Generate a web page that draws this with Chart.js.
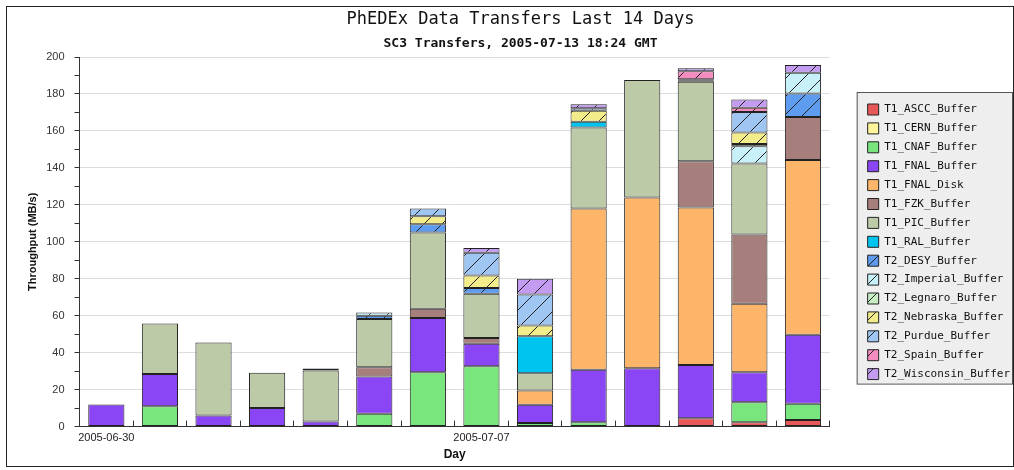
<!DOCTYPE html>
<html lang="en">
<head>
  <meta charset="UTF-8">
  <title>PhEDEx Data Transfers</title>
  <script src="https://cdn.jsdelivr.net/npm/chart.js"></script>
  <style>
    body {
      margin: 0;
      background: #fff;
    }

    .wrap {
      position: relative;
      width: 1014px;
      height: 470px;
    }

    .frame {
      position: absolute;
      left: 6px;
      top: 6px;
      width: 1006px;
      height: 459px;
      border: 1px solid #222;
      pointer-events: none;
    }
  </style>
</head>
<body>

<div class="wrap">
  <canvas id="transfersChart" width="1014" height="470"></canvas>
  <div class="frame"></div>
</div>

<script>
  const days = [
    "2005-06-30", "2005-07-01", "2005-07-02", "2005-07-03", "2005-07-04",
    "2005-07-05", "2005-07-06", "2005-07-07", "2005-07-08", "2005-07-09",
    "2005-07-10", "2005-07-11", "2005-07-12", "2005-07-13"
  ];

  // MB/s per node, one value per day (stack order = legend order)
  const asccBuffer      = [0, 0, 0, 0, 0, 0, 0, 0, 0, 0, 0, 4.5, 2.3, 3.6];
  const cernBuffer      = [0, 0, 0, 0, 0, 0, 0, 0, 0, 0, 0, 0, 0, 0];
  const cnafBuffer      = [0, 11, 0, 0, 0, 7, 29.4, 32.7, 2, 2.3, 0, 0, 10.9, 8.7];
  const fnalBuffer      = [12, 17.5, 6, 10, 2.7, 20.1, 29.3, 12.1, 9.8, 28.4, 31.6, 28.9, 16.2, 37.4];
  const fnalDisk        = [0, 0, 0, 0, 0, 0, 0, 0, 7.7, 87.3, 92.4, 85.1, 37.1, 94.5];
  const fzkBuffer       = [0, 0, 0, 0, 0, 5, 5.1, 3.1, 0, 0, 0, 25.1, 37.4, 23.3];
  const picBuffer       = [0, 27.3, 39.5, 19.2, 27.6, 26.1, 41.2, 24, 9.4, 43.9, 63.5, 43, 38.5, 0];
  const ralBuffer       = [0, 0, 0, 0, 0, 0, 0, 0, 20, 3, 0, 0, 0, 0];
  const desyBuffer      = [0, 0, 0, 0, 0, 1.8, 4.5, 3.1, 0, 0, 0, 0, 0, 12.8];
  const imperialBuffer  = [0, 0, 0, 0, 0, 1.8, 0, 0, 0, 0, 0, 0, 9.3, 11.2];
  const legnaroBuffer   = [0, 0, 0, 0, 1.1, 0, 0, 0, 0, 0, 0, 0.6, 1.2, 0];
  const nebraskaBuffer  = [0, 0, 0, 0, 0, 0, 4.3, 6.8, 5.8, 6, 0, 0, 6.3, 0];
  const purdueBuffer    = [0, 0, 0, 0, 0, 0, 4.2, 12.3, 16.8, 1.3, 0, 0.7, 11, 0];
  const spainBuffer     = [0, 0, 0, 0, 0, 0, 0, 0, 0, 0, 0, 4.4, 2.3, 0];
  const wisconsinBuffer = [0, 0, 0, 0, 0, 0, 0, 2.5, 8.5, 2.2, 0, 1.6, 4.5, 4.2];

  const yTicks = [0, 20, 40, 60, 80, 100, 120, 140, 160, 180, 200];

  // diagonal hatch fill for the T2 nodes
  function hatch(color) {
    const size = 18;
    const c = document.createElement("canvas");
    c.width = size;
    c.height = size;
    const g = c.getContext("2d");
    g.fillStyle = color;
    g.fillRect(0, 0, size, size);
    g.strokeStyle = "#222";
    g.lineWidth = 1;
    g.beginPath();
    g.moveTo(0, size); g.lineTo(size, 0);
    g.moveTo(-2, 2); g.lineTo(2, -2);
    g.moveTo(size - 2, size + 2); g.lineTo(size + 2, size - 2);
    g.stroke();
    return g.createPattern(c, "repeat");
  }

  const series = [
    ["T1_ASCC_Buffer", asccBuffer, "#e85858"],
    ["T1_CERN_Buffer", cernBuffer, "#fff59a"],
    ["T1_CNAF_Buffer", cnafBuffer, "#78e67c"],
    ["T1_FNAL_Buffer", fnalBuffer, "#8a46f5"],
    ["T1_FNAL_Disk", fnalDisk, "#fdb56a"],
    ["T1_FZK_Buffer", fzkBuffer, "#a67f7d"],
    ["T1_PIC_Buffer", picBuffer, "#bccaa8"],
    ["T1_RAL_Buffer", ralBuffer, "#00c4f0"],
    ["T2_DESY_Buffer", desyBuffer, hatch("#5d9cee")],
    ["T2_Imperial_Buffer", imperialBuffer, hatch("#c8f0f8")],
    ["T2_Legnaro_Buffer", legnaroBuffer, hatch("#c8ecc4")],
    ["T2_Nebraska_Buffer", nebraskaBuffer, hatch("#f2ec8a")],
    ["T2_Purdue_Buffer", purdueBuffer, hatch("#9fc6f2")],
    ["T2_Spain_Buffer", spainBuffer, hatch("#f48cc0")],
    ["T2_Wisconsin_Buffer", wisconsinBuffer, hatch("#c39cf2")]
  ];

  // grey box behind the legend
  const legendBox = {
    id: "legendBox",
    beforeDraw(chart) {
      const lg = chart.legend;
      if (!lg || !lg.legendHitBoxes.length) return;
      const first = lg.legendHitBoxes[0];
      const last = lg.legendHitBoxes[lg.legendHitBoxes.length - 1];
      const x = first.left - 11;
      const y = first.top - 12;
      const w = 1012 - x;
      const h = last.top + last.height + 4 - y;
      const ctx = chart.ctx;
      ctx.save();
      ctx.fillStyle = "#eeeeee";
      ctx.fillRect(x, y, w, h);
      ctx.strokeStyle = "#555";
      ctx.lineWidth = 1;
      ctx.strokeRect(x + 0.5, y + 0.5, w, h);
      ctx.restore();
    }
  };

  const ctx = document.getElementById("transfersChart").getContext("2d");

  new Chart(ctx, {
    type: "bar",
    data: {
      labels: days,
      datasets: series.map(([name, values, fill]) => ({
        label: name,
        data: values.map(v => v || null),
        backgroundColor: fill,
        borderColor: "#222",
        borderWidth: 1,
        borderSkipped: false,
        categoryPercentage: 1.0,
        barPercentage: 0.675
      }))
    },
    plugins: [legendBox],
    options: {
      responsive: false,
      animation: false,
      layout: {
        padding: { top: 9, left: 21, right: -6, bottom: 8 }
      },
      plugins: {
        title: {
          display: true,
          text: "PhEDEx Data Transfers Last 14 Days",
          color: "#111",
          font: { family: "'DejaVu Sans Mono', monospace", size: 17, weight: "normal" },
          padding: { top: 0, bottom: 2 }
        },
        subtitle: {
          display: true,
          text: "SC3 Transfers, 2005-07-13 18:24 GMT",
          color: "#111",
          font: { family: "'DejaVu Sans Mono', monospace", size: 13, weight: "bold" },
          padding: { top: 4, bottom: 6 }
        },
        legend: {
          position: "right",
          fullSize: false,
          labels: {
            color: "#111",
            font: { family: "'DejaVu Sans Mono', monospace", size: 11 },
            boxWidth: 11,
            boxHeight: 11,
            padding: 7.9
          }
        },
        tooltip: { enabled: false }
      },
      scales: {
        x: {
          stacked: true,
          border: { color: "#333" },
          grid: {
            offset: true,
            drawOnChartArea: false,
            tickLength: -6,
            tickColor: "#333"
          },
          ticks: {
            autoSkip: false,
            maxRotation: 0,
            padding: 10.4,
            color: "#222",
            font: { family: "'Liberation Sans', Arial, sans-serif", size: 11 },
            callback: function (value, index) {
              return index % 7 === 0 ? this.getLabelForValue(value) : "";
            }
          },
          title: {
            display: true,
            text: "Day",
            color: "#111",
            font: { family: "'Liberation Sans', Arial, sans-serif", size: 12, weight: "bold" },
            padding: { top: -7, bottom: 0 }
          }
        },
        y: {
          stacked: true,
          min: 0,
          max: 200,
          border: { color: "#333" },
          grid: {
            color: c => (yTicks.includes(c.tick.value) && c.tick.value !== 0 ? "#dddddd" : "rgba(0,0,0,0)"),
            tickColor: "#333",
            tickLength: 5
          },
          ticks: {
            stepSize: 10,
            padding: 10,
            color: "#333",
            font: { family: "'Liberation Sans', Arial, sans-serif", size: 11 },
            callback: v => (yTicks.includes(v) ? v : "")
          },
          title: {
            display: true,
            text: "Throughput (MB/s)",
            color: "#111",
            font: { family: "'Liberation Sans', Arial, sans-serif", size: 11, weight: "bold" },
            padding: { top: 5, bottom: -3 }
          }
        },
        // empty right axis: keeps the gap between plot and legend
        yGap: {
          position: "right",
          display: true,
          grid: { display: false },
          border: { display: false },
          ticks: { display: false },
          afterFit: s => { s.width = 30; }
        }
      }
    }
  });
</script>

</body>
</html>
